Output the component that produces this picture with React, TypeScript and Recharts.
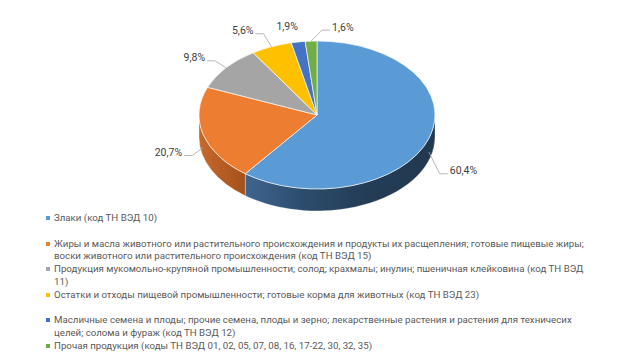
import React from 'react';
import { PieChart, Pie, Legend } from 'recharts';

const categories = [
  'Злаки (код ТН ВЭД 10)',
  'Жиры и масла животного или растительного происхождения и продукты их расщепления; готовые пищевые жиры; воски животного или растительного происхождения (код ТН ВЭД 15)',
  'Продукция мукомольно-крупяной промышленности; солод; крахмалы; инулин; пшеничная клейковина (код ТН ВЭД 11)',
  'Остатки и отходы пищевой промышленности; готовые корма для животных (код ТН ВЭД 23)',
  'Масличные семена и плоды; прочие семена, плоды и зерно; лекарственные растения и растения для техничесих целей; солома и фураж (код ТН ВЭД 12)',
  'Прочая продукция (коды ТН ВЭД 01, 02, 05, 07, 08, 16, 17-22, 30, 32, 35)',
];
const shares = [60.4, 20.7, 9.8, 5.6, 1.9, 1.6];

const topColors = ['#5B9BD5', '#ED7D31', '#A5A5A5', '#FFC000', '#4472C4', '#70AD47'];
const sideFills = ['url(#sideBlue)', 'url(#sideOrange)', '#7f7f7f', '#bf9000', '#2f5597', '#548235'];

const data = categories.map((name, i) => ({ name, value: shares[i] }));

const K = 0.627;
const DEPTH = 22;
const RAD = Math.PI / 180;
const FONT = 'Roboto, "Open Sans", sans-serif';
const LABEL_OFFSETS = [[21, 32], [-21, 18], [-21, -10], [-18, -16], [-11, -15], [21, -14]];

const pt = (cx: number, cy: number, r: number, a: number): [number, number] => [
  cx + r * Math.cos(a * RAD),
  cy - r * K * Math.sin(a * RAD),
];

const TopShape = (p: any) => {
  const { cx, cy, outerRadius: r, startAngle: s, endAngle: e, index } = p;
  const [x1, y1] = pt(cx, cy, r, s);
  const [x2, y2] = pt(cx, cy, r, e);
  const large = Math.abs(s - e) > 180 ? 1 : 0;
  const sweep = s > e ? 1 : 0;
  const d = `M${cx},${cy} L${x1},${y1} A${r},${r * K} 0 ${large} ${sweep} ${x2},${y2} Z`;
  return <path d={d} fill={topColors[index % topColors.length]} stroke="#ffffff" strokeWidth={0.8} strokeOpacity={0.8} />;
};

const SideShape = (p: any) => {
  const { cx, cy, outerRadius: r, startAngle: s, endAngle: e, index } = p;
  const hiA = Math.min(Math.max(s, e), 0);
  const loA = Math.max(Math.min(s, e), -180);
  if (hiA <= loA) return <g />;
  const [x1, y1] = pt(cx, cy, r, hiA);
  const [x2, y2] = pt(cx, cy, r, loA);
  const large = hiA - loA > 180 ? 1 : 0;
  const d = `M${x1},${y1} A${r},${r * K} 0 ${large} 1 ${x2},${y2} L${x2},${y2 + DEPTH} A${r},${r * K} 0 ${large} 0 ${x1},${y1 + DEPTH} Z`;
  return <path d={d} fill={sideFills[index % sideFills.length]} stroke="#ffffff" strokeWidth={0.6} strokeOpacity={0.5} />;
};

const renderLabel = (p: any) => {
  const { cx, cy, outerRadius, midAngle, index, value } = p;
  const [px, py] = pt(cx, cy, outerRadius, midAngle);
  const front = Math.sin(midAngle * RAD) < 0;
  const ay = py + (front ? DEPTH * 0.6 : 0);
  const [dx, dy] = LABEL_OFFSETS[index];
  const tx = px + dx;
  const ty = py + dy;
  const anchor = dx > 15 ? 'start' : dx < -15 ? 'end' : 'middle';
  const dir = dx > 0 ? -1 : 1;
  const showLine = Math.abs(dx) > 15;
  const bx = tx + dir * 10;
  const cxl = tx + dir * 2;
  const ly = ty + 3;
  const text = String(value).replace('.', ',') + '%';
  return (
    <g key={`lbl-${index}`}>
      {showLine && (
        <polyline points={`${px},${ay} ${bx},${ly} ${cxl},${ly}`} fill="none" stroke="#a6a6a6" strokeWidth={0.8} />
      )}
      <text x={tx} y={ty} textAnchor={anchor} dominantBaseline="central" fill="#404040" fontSize={10.5} fontFamily={FONT}>
        {text}
      </text>
    </g>
  );
};

const renderLegend = () => (
  <div style={{ fontFamily: FONT, fontSize: 9.7, color: '#595959', width: 545, textAlign: 'left' }}>
    {data.map((d, i) => (
      <div key={i} style={{ height: 25.6, position: 'relative', paddingLeft: 8, lineHeight: '12.4px', boxSizing: 'border-box' }}>
        <span style={{ position: 'absolute', left: 0, top: 4, width: 4, height: 4, background: topColors[i] }} />
        {d.name}
      </div>
    ))}
  </div>
);

export default function App() {
  return (
    <div style={{ position: 'absolute', left: 0, top: 0, width: 635, height: 362, background: '#ffffff' }}>
      <PieChart width={635} height={362} margin={{ top: 0, right: 0, bottom: 0, left: 0 }}>
        <defs>
          <linearGradient id="sideBlue" gradientUnits="userSpaceOnUse" x1={199} y1={0} x2={435} y2={0}>
            <stop offset="0%" stopColor="#4a76a3" />
            <stop offset="18%" stopColor="#3f6791" />
            <stop offset="45%" stopColor="#2c4b6b" />
            <stop offset="70%" stopColor="#243d57" />
            <stop offset="100%" stopColor="#21384f" />
          </linearGradient>
          <linearGradient id="sideOrange" gradientUnits="userSpaceOnUse" x1={199} y1={0} x2={245} y2={0}>
            <stop offset="0%" stopColor="#c8692b" />
            <stop offset="100%" stopColor="#a4511c" />
          </linearGradient>
        </defs>
        <Pie
          data={data}
          dataKey="value"
          nameKey="name"
          cx={317}
          cy={115}
          outerRadius={118}
          startAngle={90}
          endAngle={-270}
          isAnimationActive={false}
          shape={SideShape}
          label={false}
          labelLine={false}
          legendType="none"
        />
        <Pie
          data={data}
          dataKey="value"
          nameKey="name"
          cx={317}
          cy={115}
          outerRadius={118}
          startAngle={90}
          endAngle={-270}
          isAnimationActive={false}
          shape={TopShape}
          label={renderLabel}
          labelLine={false}
        />
        <Legend
          content={renderLegend}
          wrapperStyle={{ position: 'absolute', left: 46, top: 212, width: 560, height: 150 }}
        />
      </PieChart>
    </div>
  );
}
